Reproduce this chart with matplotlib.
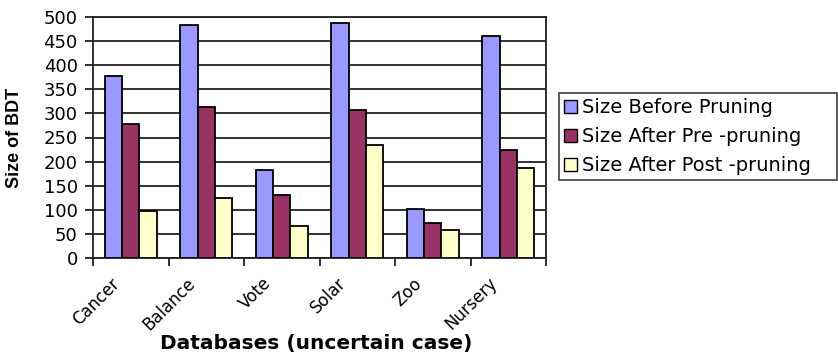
import matplotlib
matplotlib.use("Agg")
import matplotlib.pyplot as plt
import matplotlib.transforms as mtransforms
import numpy as np
from matplotlib.patches import Patch

# Tree sizes per database
databases = ["Cancer", "Balance", "Vote", "Solar", "Zoo", "Nursery"]
size_before = [377, 483, 182, 488, 101, 461]
size_after_pre = [278, 314, 131, 308, 73, 225]
size_after_post = [97, 124, 66, 235, 58, 187]

series_names = ["Size Before Pruning", "Size After Pre -pruning", "Size After Post -pruning"]
series_colors = ["#9999FF", "#993366", "#FFFFCC"]

plt.rcParams["font.family"] = ["DejaVu Sans"]

fig = plt.figure(figsize=(8.38, 3.53), dpi=100)
ax = fig.add_axes([93 / 838, 1 - 257.7 / 353, (546 - 93) / 838, (257.7 - 17.3) / 353])

x = np.arange(len(databases))
width = 0.229
for i, (vals, col) in enumerate(zip([size_before, size_after_pre, size_after_post], series_colors)):
    ax.bar(x + (i - 1) * width, vals, width, color=col, edgecolor="black",
           linewidth=1.3, zorder=3)

ax.set_xlim(-0.5, len(databases) - 0.5)
ax.set_ylim(0, 500)
ax.set_yticks(np.arange(0, 501, 50))
ax.yaxis.grid(True, color="#222222", linewidth=1.3, zorder=0)

for sp in ax.spines.values():
    sp.set_color("#222222")
    sp.set_linewidth(1.3)

ax.tick_params(axis="y", direction="out", length=6, width=1.3, pad=5,
               labelsize=13, colors="#222222", labelcolor="black")

# category labels at centres, tick marks at category boundaries
ax.set_xticks(x)
ax.set_xticklabels(databases, rotation=45, ha="right", rotation_mode="anchor", fontsize=12)
ax.tick_params(axis="x", which="major", length=0, pad=12)
shift = mtransforms.ScaledTranslation(-0.2, 0, fig.dpi_scale_trans)
for lbl in ax.get_xticklabels():
    lbl.set_transform(lbl.get_transform() + shift)
ax.set_xticks(np.arange(-0.5, len(databases) + 0.5, 1), minor=True)
ax.tick_params(axis="x", which="minor", direction="out", length=6, width=1.3, colors="#222222")

ax.set_ylabel("Size of BDT", fontsize=13, fontweight="bold",
              family=["Liberation Sans Narrow", "Liberation Sans", "DejaVu Sans"])
ax.yaxis.set_label_coords(-0.155, 0.5)
fig.text(316 / 838, 1 - 344 / 353, "Databases (uncertain case)", ha="center", va="center",
         fontsize=14.5, fontweight="bold")

handles = [Patch(facecolor=c, edgecolor="black", linewidth=1.0) for c in series_colors]
leg_box = (559 / 838, 1 - 180 / 353, (837 - 559) / 838, 87 / 353)
leg = fig.legend(handles, series_names, loc="upper left", mode="expand",
                 bbox_to_anchor=leg_box,
                 fontsize=14, frameon=True, fancybox=False,
                 handlelength=0.65, handleheight=0.65, handletextpad=0.3,
                 labelspacing=0.52, borderpad=0.25, borderaxespad=0)
leg.get_frame().set_edgecolor("#222222")
leg.get_frame().set_linewidth(1.3)

fig.savefig("out.png", dpi=100)
